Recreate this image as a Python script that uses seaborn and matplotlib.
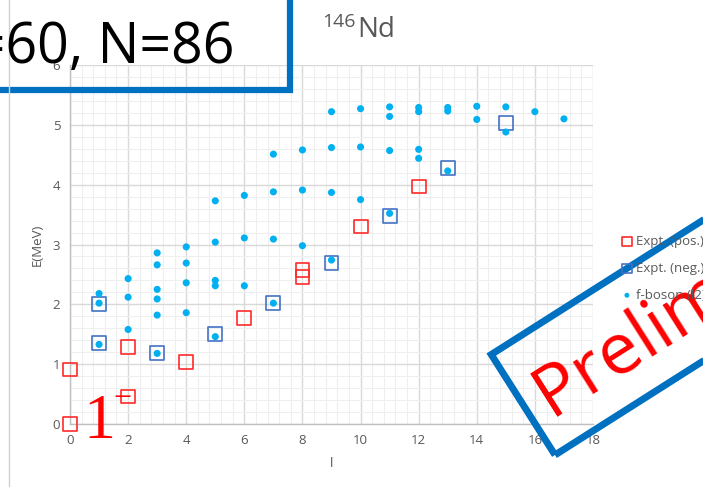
import seaborn as sns
import matplotlib
matplotlib.use('Agg')
import matplotlib.pyplot as plt
from matplotlib.patches import Rectangle
from matplotlib.lines import Line2D
from matplotlib.transforms import Affine2D
from matplotlib.ticker import MultipleLocator

# experimental levels, positive parity
I_pos = [0, 0, 2, 2, 4, 6, 8, 8, 10, 12]
E_pos = [0.00, 0.91, 0.46, 1.29, 1.03, 1.77, 2.46, 2.57, 3.30, 3.97]

# experimental levels, negative parity
I_neg = [1, 1, 3, 5, 7, 9, 11, 13, 15]
E_neg = [1.36, 2.01, 1.18, 1.50, 2.02, 2.69, 3.48, 4.28, 5.03]

# f-boson calculation
I_fb = [1, 1, 1,
        2, 2, 2,
        3, 3, 3, 3, 3, 3,
        4, 4, 4, 4,
        5, 5, 5, 5, 5,
        6, 6, 6,
        7, 7, 7, 7,
        8, 8, 8,
        9, 9, 9, 9,
        10, 10, 10,
        11, 11, 11, 11,
        12, 12, 12, 12,
        13, 13, 13,
        14, 14,
        15, 15,
        16,
        17]
E_fb = [1.33, 2.02, 2.18,
        1.58, 2.12, 2.43,
        1.18, 1.82, 2.09, 2.25, 2.66, 2.86,
        1.86, 2.36, 2.69, 2.96,
        1.46, 2.31, 2.40, 3.04, 3.73,
        2.31, 3.11, 3.82,
        2.02, 3.09, 3.88, 4.51,
        2.98, 3.91, 4.58,
        2.74, 3.87, 4.62, 5.22,
        3.75, 4.63, 5.27,
        3.52, 4.57, 5.14, 5.30,
        4.44, 4.59, 5.22, 5.29,
        4.23, 5.23, 5.29,
        5.09, 5.31,
        4.88, 5.30,
        5.22,
        5.10]

W, H = 703, 487
GRAY = '#595959'

sns.set_style('white')
plt.rcParams['font.family'] = ['Open Sans', 'DejaVu Sans']

fig = plt.figure(figsize=(W / 100, H / 100), dpi=100)
ax = fig.add_axes([70 / W, (H - 424) / H, 523 / W, 359 / H])

sns.scatterplot(x=I_pos, y=E_pos, ax=ax, marker='s', s=100, facecolor='none',
                edgecolor='#FF2A2A', linewidth=1.2, label='Expt. (pos.)', zorder=3)
sns.scatterplot(x=I_neg, y=E_neg, ax=ax, marker='s', s=100, facecolor='none',
                edgecolor='#4472C4', linewidth=1.2, label='Expt. (neg.)', zorder=3)
sns.scatterplot(x=I_fb, y=E_fb, ax=ax, marker='o', s=26, color='#00B0F0',
                edgecolor='none', label='f-boson (l2)', zorder=4)
for c in ax.collections:
    c.set_clip_on(False)

ax.set_xlim(0, 18)
ax.set_ylim(0, 6)
ax.xaxis.set_major_locator(MultipleLocator(2))
ax.xaxis.set_minor_locator(MultipleLocator(0.4))
ax.yaxis.set_major_locator(MultipleLocator(1))
ax.yaxis.set_minor_locator(MultipleLocator(0.2))
ax.grid(which='major', color='#d9d9d9', lw=1.0)
ax.grid(which='minor', color='#efefef', lw=0.8)
ax.set_axisbelow(True)
for s in ['top', 'right']:
    ax.spines[s].set_visible(False)
for s in ['left', 'bottom']:
    ax.spines[s].set_color('#bfbfbf')
    ax.spines[s].set_linewidth(1.0)
ax.tick_params(which='major', length=3, color='#bfbfbf', labelsize=9.5,
               labelcolor=GRAY, pad=4)
ax.tick_params(which='minor', length=0)

ax.set_xlabel('l', color=GRAY, fontsize=9.5, va='center')
ax.xaxis.set_label_coords(0.5, -0.109)
ax.set_ylabel('E(MeV)', color=GRAY, fontsize=9.5, va='center')
ax.yaxis.set_label_coords(-0.063, 0.5)

ax.get_legend().remove()
h, l = ax.get_legend_handles_labels()
fig.legend(h, l, loc='upper left', bbox_to_anchor=(619 / W, 1 - 235 / H),
           frameon=False, fontsize=9.5, labelcolor=GRAY, handletextpad=0.1,
           labelspacing=1.05, handlelength=1.2, markerscale=0.7,
           borderaxespad=0, borderpad=0)

# title
fig.text(322 / W, 1 - 27 / H, '146', fontsize=14, color=GRAY, ha='left', va='baseline')
fig.text(357 / W, 1 - 37 / H, 'Nd', fontsize=20, color=GRAY, ha='left', va='baseline')

# thin slide border line on the left
fig.add_artist(Line2D([8.5 / W, 8.5 / W], [0, 1], color='#d0d0d0', lw=1))

px = Affine2D().scale(1 / 100) + fig.dpi_scale_trans

# top-left box
fig.add_artist(Rectangle((-20, H - 90), 310, 130, fill=False, ec='#0070C0',
                         lw=4.5, transform=px, clip_on=False))
fig.text(234 / W, 1 - 63 / H, 'Z=60, N=86', fontsize=40, color='black',
         ha='right', va='baseline')

# 1- label
fig.text(83 / W, 1 - 438 / H, '1', fontsize=46, color='red', ha='left',
         va='baseline', family='Liberation Serif')
fig.text(122 / W, 1 - 407 / H, '\u2212', fontsize=23, color='red', ha='center',
         va='baseline', family='Liberation Serif')

# stamp
ang = 32.4
fig.add_artist(Rectangle((555, H - 455), 520, 119, angle=ang, fill=False,
                         ec='#0070C0', lw=5, transform=px, clip_on=False))
fig.text(551 / W, 1 - 417 / H, 'Preliminary', rotation=ang, rotation_mode='anchor',
         ha='left', va='baseline', color='red', fontsize=52)

fig.savefig('out.png', dpi=100)
